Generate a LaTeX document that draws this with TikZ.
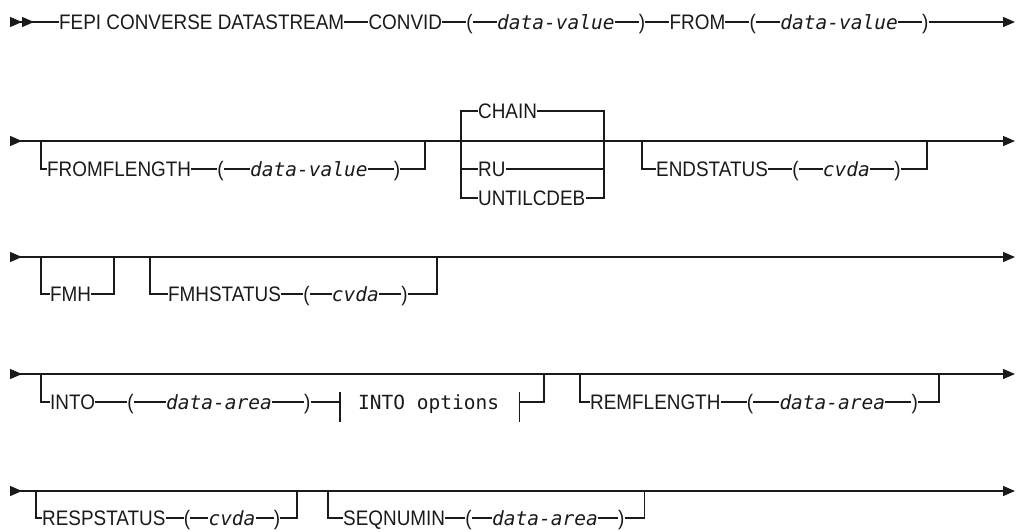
\documentclass[tikz,border=0pt]{standalone}
\usepackage{fontspec}
\newfontfamily\kwfont{Liberation Sans}[FakeStretch=0.9]
\newfontfamily\varfont{DejaVu Sans Mono}[ItalicFont={DejaVu Sans Mono Oblique}]
\usetikzlibrary{positioning,calc,arrows.meta}
\definecolor{rrink}{HTML}{1A1A1A}
\tikzset{
  kw/.style   ={font=\kwfont\fontsize{21pt}{24pt}\selectfont, text=rrink,
                inner sep=0pt, text height=14.4pt, text depth=0pt},
  var/.style  ={kw, font=\varfont\itshape\fontsize{19.5pt}{24pt}\selectfont},
  frag/.style ={kw, font=\varfont\fontsize{19.5pt}{24pt}\selectfont},
  rr/.style   ={line width=1.3pt, draw=rrink},
  rrend/.style={rr, -{Triangle[length=12pt,width=10pt]}},
  rrrow/.style={rr, {Triangle[reversed,length=12pt,width=10pt]}-{Triangle[length=12pt,width=10pt]}},
  rrtop/.style={rr, {Triangle[reversed,length=12pt,width=10pt]Triangle[reversed,length=12pt,width=10pt]}-}
}
\begin{document}
\begin{tikzpicture}[x=1pt, y=-1pt, node distance=24pt]
  \useasboundingbox (0,0) rectangle (1021,531);
  % row 1
  \coordinate (r1s) at (10,22);
  \coordinate (r1e) at (1015,22);
  \node[kw,anchor=west] (cmd) at (59,22) {FEPI CONVERSE DATASTREAM};
  \node[kw,right=of cmd] (convid) {CONVID};
  \node[kw,right=of convid] (lpa) {(};
  \node[var,right=of lpa] (dva) {data-value};
  \node[kw,right=of dva] (rpa) {)};
  \node[kw,right=of rpa] (from) {FROM};
  \node[kw,right=of from] (lpb) {(};
  \node[var,right=of lpb] (dvb) {data-value};
  \node[kw,right=of dvb] (rpb) {)};
  \draw[rrtop] (r1s) -- (cmd);
  \draw[rr] (cmd) -- (convid) -- (lpa) -- (dva) -- (rpa) -- (from) -- (lpb) -- (dvb) -- (rpb);
  \draw[rrend] (rpb) -- (r1e);

  % row 2
  \coordinate (r2s) at (10,141);
  \coordinate (r2e) at (1015,141);
  \draw[rrrow] (r2s) -- (r2e);
  \node[kw,anchor=west] (fromlen) at (47,169) {FROMFLENGTH};
  \node[kw,right=26pt of fromlen] (lpc) {(};
  \node[var,right=26pt of lpc] (dvc) {data-value};
  \node[kw,right=26pt of dvc] (rpc) {)};
  \coordinate (fromlen-in) at (41,141);
  \coordinate (fromlen-out) at (425,141);
  \draw[rr] (fromlen-in) |- (fromlen) -- (lpc) -- (dvc) -- (rpc) -| (fromlen-out);
  \node[kw,anchor=west] (chain) at (478,111) {CHAIN};
  \node[kw,anchor=west] (ru) at (478,169) {RU};
  \node[kw,anchor=west] (untilcdeb) at (478,198) {UNTILCDEB};
  \coordinate (sel-in) at (461,141);
  \coordinate (sel-out) at (604,141);
  \foreach \opt in {chain,ru,untilcdeb}
    \draw[rr] (sel-in) |- (\opt) -| (sel-out);
  \node[kw,anchor=west] (endst) at (656,169) {ENDSTATUS};
  \node[kw,right=of endst] (lpd) {(};
  \node[var,right=of lpd] (cva) {cvda};
  \node[kw,right=of cva] (rpd) {)};
  \coordinate (endst-in) at (642,141);
  \coordinate (endst-out) at (927,141);
  \draw[rr] (endst-in) |- (endst) -- (lpd) -- (cva) -- (rpd) -| (endst-out);

  % row 3
  \coordinate (r3s) at (10,257);
  \coordinate (r3e) at (1015,257);
  \draw[rrrow] (r3s) -- (r3e);
  \node[kw,anchor=west] (fmh) at (50,294) {FMH};
  \coordinate (fmh-in) at (41,257);
  \coordinate (fmh-out) at (114,257);
  \draw[rr] (fmh-in) |- (fmh) -| (fmh-out);
  \node[kw,anchor=west] (fmhst) at (168,294) {FMHSTATUS};
  \node[kw,right=22pt of fmhst] (lpe) {(};
  \node[var,right=22pt of lpe] (cvb) {cvda};
  \node[kw,right=22pt of cvb] (rpe) {)};
  \coordinate (fmhst-in) at (150,257);
  \coordinate (fmhst-out) at (437,257);
  \draw[rr] (fmhst-in) |- (fmhst) -- (lpe) -- (cvb) -- (rpe) -| (fmhst-out);

  % row 4
  \coordinate (r4s) at (10,374);
  \coordinate (r4e) at (1015,374);
  \draw[rrrow] (r4s) -- (r4e);
  \node[kw,anchor=west] (into) at (50,402) {INTO};
  \node[kw,right=32pt of into] (lpf) {(};
  \node[var,right=32pt of lpf] (daa) {data-area};
  \node[kw,right=32pt of daa] (rpf) {)};
  \coordinate (into-in) at (41,374);
  \coordinate (frag-a) at (340,402);
  \node[frag,right=18pt of frag-a] (intoopt) {INTO options};
  \coordinate (frag-b) at ($(intoopt.east)+(20,0)$);
  \coordinate (into-out) at (544,374);
  \draw[rr] (into-in) |- (into) -- (lpf) -- (daa) -- (rpf) -- (frag-a);
  \draw[rr] (frag-b) -| (into-out);
  \draw[rr] ($(frag-a)+(0,-10)$) -- ($(frag-a)+(0,20)$);
  \draw[rr] ($(frag-b)+(0,-10)$) -- ($(frag-b)+(0,20)$);
  \node[kw,anchor=west] (remlen) at (590,402) {REMFLENGTH};
  \node[kw,right=26pt of remlen] (lpg) {(};
  \node[var,right=26pt of lpg] (dab) {data-area};
  \node[kw,right=26pt of dab] (rpg) {)};
  \coordinate (remlen-in) at (580,374);
  \coordinate (remlen-out) at (939,374);
  \draw[rr] (remlen-in) |- (remlen) -- (lpg) -- (dab) -- (rpg) -| (remlen-out);

  % row 5
  \coordinate (r5s) at (10,491);
  \coordinate (r5e) at (1015,491);
  \draw[rrrow] (r5s) -- (r5e);
  \node[kw,anchor=west] (respst) at (42,518) {RESPSTATUS};
  \node[kw,right=18pt of respst] (lph) {(};
  \node[var,right=18pt of lph] (cvc) {cvda};
  \node[kw,right=18pt of cvc] (rph) {)};
  \coordinate (respst-in) at (36,491);
  \coordinate (respst-out) at (297,491);
  \draw[rr] (respst-in) |- (respst) -- (lph) -- (cvc) -- (rph) -| (respst-out);
  \node[kw,anchor=west] (seqnum) at (343,518) {SEQNUMIN};
  \node[kw,right=20pt of seqnum] (lpi) {(};
  \node[var,right=20pt of lpi] (dac) {data-area};
  \node[kw,right=20pt of dac] (rpi) {)};
  \coordinate (seqnum-in) at (328,491);
  \coordinate (seqnum-out) at ($(rpi.east)+(20,-27)$);
  \draw[rr] (seqnum-in) |- (seqnum) -- (lpi) -- (dac) -- (rpi) -| (seqnum-out);
\end{tikzpicture}
\end{document}
